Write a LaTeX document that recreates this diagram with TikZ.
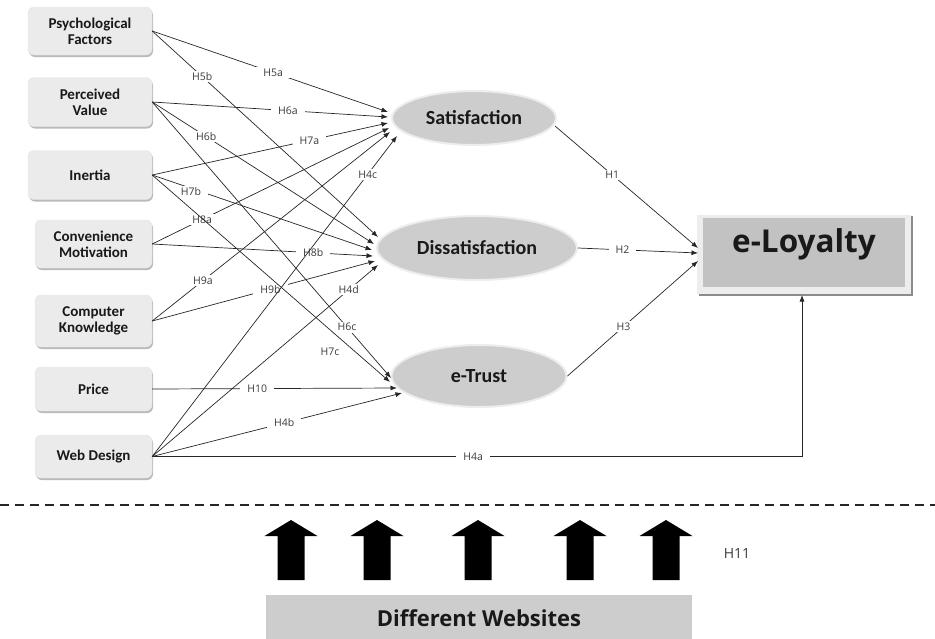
\documentclass[tikz,border=0pt]{standalone}
\usepackage{fontspec}
\setmainfont{Carlito}
\newfontfamily\hypfont{Open Sans}
\usetikzlibrary{arrows.meta,shapes.geometric,shadows}

\definecolor{boxgray}{HTML}{EBEBEB}
\definecolor{ovalgray}{HTML}{CDCDCD}
\definecolor{loygray}{HTML}{C2C2C2}
\definecolor{linegray}{HTML}{262626}
\definecolor{lbltext}{HTML}{3A3A3A}

\begin{document}
\begin{tikzpicture}[x=1pt,y=-1pt,
  factor/.style={rectangle, rounded corners=6pt, fill=boxgray, draw=black!10, line width=0.4pt,
    drop shadow={shadow xshift=1pt, shadow yshift=-2pt, fill=black!45, opacity=0.6},
    align=center, font=\fontsize{15}{16}\selectfont\bfseries, text=black!90, inner sep=2pt},
  construct/.style={ellipse, fill=ovalgray, draw=black!7, line width=2pt,
    font=\fontsize{20}{22}\selectfont\bfseries, text=black!90, inner sep=0pt},
  link/.style={draw=linegray, line width=0.7pt, -{Latex[length=6.5pt,width=5pt]}},
  hyp/.style={fill=white, inner xsep=7pt, inner ysep=1.5pt, text=lbltext,
    font=\hypfont\fontsize{10.5}{12}\selectfont},
]
\useasboundingbox (0,0) rectangle (935,638);

% antecedent factors
\node[factor, minimum width=124pt, minimum height=48pt] (psy) at (90,31)    {Psychological\\Factors};
\node[factor, minimum width=124pt, minimum height=49pt] (pv)  at (90,102)   {Perceived\\Value};
\node[factor, minimum width=124pt, minimum height=49pt] (ine) at (90,175)   {Inertia};
\node[factor, minimum width=117pt, minimum height=48pt] (con) at (93.5,244) {Convenience\\Motivation};
\node[factor, minimum width=117pt, minimum height=52pt] (com) at (93.5,321) {Computer\\Knowledge};
\node[factor, minimum width=117pt, minimum height=44pt] (pri) at (93.5,389) {Price};
\node[factor, minimum width=117pt, minimum height=43pt] (web) at (93.5,456.5) {Web Design};

% mediating constructs
\node[construct, minimum width=164pt, minimum height=54pt] (sat) at (474,118) {Satisfaction};
\node[construct, minimum width=200pt, minimum height=64pt] (dis) at (477,248) {Dissatisfaction};
\node[construct, minimum width=175pt, minimum height=62pt] (etr) at (479,376) {e-Trust};

% outcome
\fill[black!45] (699,216) rectangle (913,295.5);
\node[fill=black!7, minimum width=214pt, minimum height=79pt, inner sep=0pt] (loy) at (804,254) {};
\node[fill=loygray, minimum width=202pt, minimum height=69pt, inner sep=0pt] (loyin) at (804,252.5) {};
\node[font=\hypfont\bfseries\fontsize{31.5}{33}\selectfont, text=black!90] (loytxt) at (804,244.5) {e-Loyalty};

% arrow tips on the constructs
\coordinate (s5a) at (388,112); \coordinate (s6a) at (388,117); \coordinate (s7a) at (388,123);
\coordinate (s8a) at (389,128); \coordinate (s9a) at (390,132); \coordinate (s4c) at (397,136);
\coordinate (d5b) at (378,237); \coordinate (d6b) at (374,244); \coordinate (d7b) at (372,250);
\coordinate (d8b) at (373,256); \coordinate (d9b) at (375,261); \coordinate (d4d) at (378,265);
\coordinate (t6c) at (391,378); \coordinate (t7c) at (390,382); \coordinate (t10) at (397,388);
\coordinate (t4b) at (402,393);
\coordinate (l1) at (698,248); \coordinate (l2) at (698,253); \coordinate (l3) at (698,261);
\coordinate (l4a) at (802,295);

% hypothesised paths
\draw[link] (pv.east) -- node[hyp, pos=.576] {H6a} (s6a);
\draw[link] (pv.east) -- node[hyp, pos=.243] {H6b} (d6b);
\draw[link] (pv.east) -- node[hyp, pos=.816] {H6c} (t6c);
\draw[link] (con.east) -- node[hyp, pos=.211] {H8a} (s8a);
\draw[link] (con.east) -- node[hyp, pos=.729] {H8b} (d8b);
\draw[link] (com.east) -- node[hyp, pos=.213] {H9a} (s9a);
\draw[link] (com.east) -- node[hyp, pos=.531] {H9b} (d9b);
\draw[link] (pri.east) -- node[hyp, pos=.429] {H10} (t10);
\draw[link] (ine.east) -- node[hyp, pos=.667] {H7a} (s7a);
\draw[link] (ine.east) -- node[hyp, pos=.176, yshift=-3pt] {H7b} (d7b);
\node[hyp] (h7c) at (330,352) {H7c};
\draw[link] (ine.east) -- (t7c);
\draw[link] (psy.east) -- node[hyp, pos=.513] {H5a} (s5a);
\draw[link] (psy.east) -- node[hyp, pos=.221] {H5b} (d5b);
\draw[link] (web.east) -- node[hyp, pos=.528] {H4b} (t4b);
\draw[link] (web.east) -- node[hyp, pos=.87] {H4d} (d4d);
\draw[link] (web.east) -- node[hyp, pos=.88] {H4c} (s4c);
\draw[link] (web.east) -- node[hyp, pos=.494] {H4a} (web.east -| l4a) -- (l4a);

\draw[link] ([shift={(-2,8)}]sat.east) -- node[hyp, pos=.40] {H1} (l1);
\draw[link] (dis.east) -- node[hyp, pos=.37] {H2} (l2);
\draw[link] (etr.east) -- node[hyp, pos=.43] {H3} (l3);

% moderation by website
\draw[linegray, line width=1.4pt, dash pattern=on 9pt off 6pt] (0,505) -- (935,505);
\foreach \cx in {291,377,478,580,666}
  \fill[black] (\cx-13.5,580) -- (\cx-13.5,536) -- (\cx-26.5,536) -- (\cx,520)
               -- (\cx+26.5,536) -- (\cx+13.5,536) -- (\cx+13.5,580) -- cycle;
\node[text=lbltext, font=\hypfont\fontsize{14}{16}\selectfont] (h11) at (737,553) {H11};
\node[fill=ovalgray, minimum width=426pt, minimum height=46pt, anchor=north,
      font=\hypfont\bfseries\fontsize{22}{24}\selectfont, text=black!90] (sites) at (479,595) {Different Websites};
\end{tikzpicture}
\end{document}
